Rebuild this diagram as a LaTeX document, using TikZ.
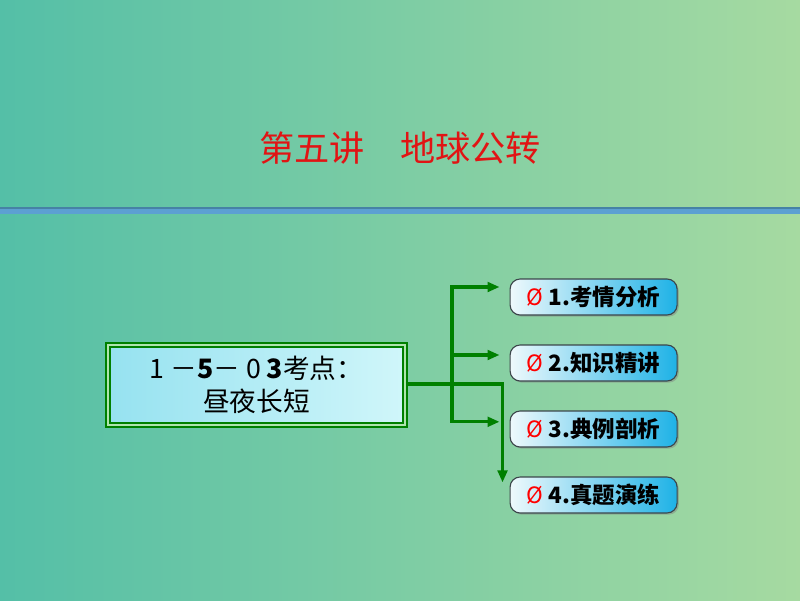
\documentclass[tikz,border=0pt]{standalone}
\usepackage{fontspec}
\setmainfont{Noto Sans CJK SC}
\usepackage{tikz}
\usetikzlibrary{positioning,arrows.meta,calc,shadows}

\definecolor{bgleft}{RGB}{84,191,167}
\definecolor{bgright}{RGB}{166,218,161}
\definecolor{linkgreen}{RGB}{0,128,0}
\definecolor{bandblue}{RGB}{92,160,210}
\definecolor{bandedge}{RGB}{70,130,165}

\begin{document}
\begin{tikzpicture}[
    topic/.style={minimum width=7.425cm, minimum height=2.0cm, align=center,
      draw=linkgreen, double={rgb,255:red,175;green,228;blue,175}, double distance=1.4pt, line width=1.3pt,
      left color={rgb,255:red,150;green,226;blue,240}, right color={rgb,255:red,208;green,246;blue,250},
      font=\fontsize{19}{23}\selectfont},
    item/.style={minimum width=4.175cm, minimum height=0.9cm, rounded corners=0.25cm,
      draw={rgb,255:red,60;green,70;blue,75}, line width=0.8pt,
      left color={rgb,255:red,238;green,249;blue,252}, right color={rgb,255:red,30;green,178;blue,230},
      drop shadow={shadow xshift=1.2pt, shadow yshift=-1.2pt, opacity=0.45},
      font=\fontsize{16}{20}\selectfont\bfseries},
    flow/.style={-{Triangle[length=0.3cm,width=0.24cm]}, draw=linkgreen, line width=2.2pt},
    link/.style={draw=linkgreen, line width=2.2pt},
]
  \useasboundingbox (0,0) rectangle (20,15);
  \shade[left color=bgleft, right color=bgright] (0,0) rectangle (20,15);

  % title and rule under it
  \node[text={rgb,255:red,225;green,20;blue,20}, font=\fontsize{25}{30}\selectfont] (title) at (10,11.3) {第五讲\hspace{1em}地球公转};
  \fill[bandblue] (0,9.65) rectangle (20,9.79);
  \draw[bandedge, line width=0.8pt] (0,9.8) -- (20,9.8);

  \node[topic] (main) at (6.4125,5.375) {1 －\textbf{5}－ 0 \textbf{3}考点：\\昼夜长短};

  \node[item] (k1) at (14.84,7.575) {\textcolor{red}{\mdseries Ø} 1.考情分析};
  \node[item] (k2) at (14.84,5.925) {\textcolor{red}{\mdseries Ø} 2.知识精讲};
  \node[item] (k3) at (14.84,4.275) {\textcolor{red}{\mdseries Ø} 3.典例剖析};
  \node[item] (k4) at (14.84,2.625) {\textcolor{red}{\mdseries Ø} 4.真题演练};

  \coordinate (fork) at (11.3,5.4);
  \coordinate (drop) at ($(k4.north west)+(-0.175,-0.15)$);

  \draw[link] (main.east |- fork) -- (fork);
  \draw[flow] (fork) |- ([xshift=-0.25cm,yshift=0.25cm]k1.west);
  \draw[flow] (fork) |- ([xshift=-0.25cm,yshift=0.2cm]k2.west);
  \draw[flow] (fork) |- ([xshift=-0.25cm,yshift=0.18cm]k3.west);
  \draw[flow] (fork) -| (drop);
\end{tikzpicture}
\end{document}
